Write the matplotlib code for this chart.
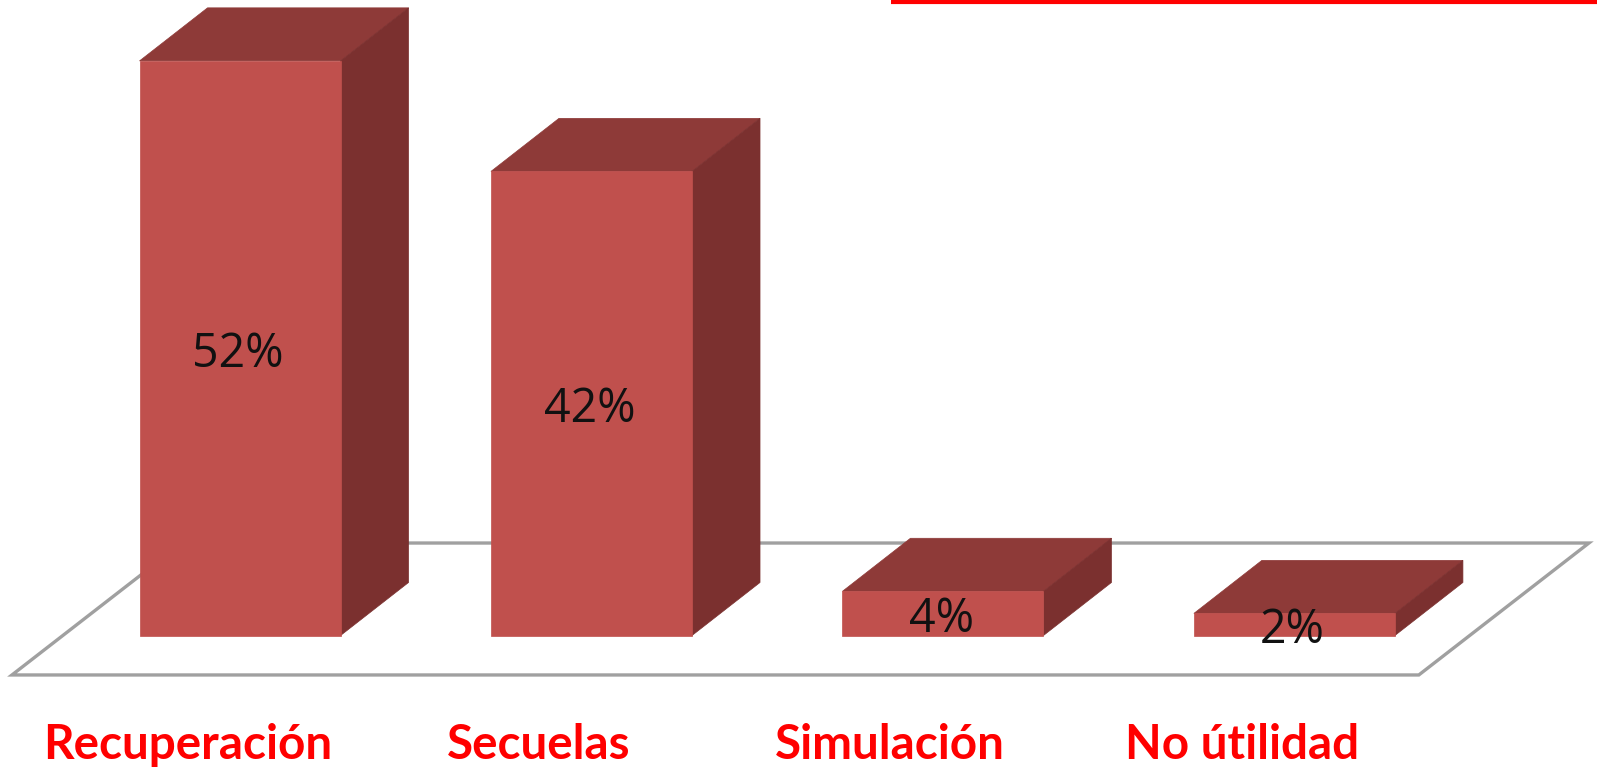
import matplotlib
matplotlib.use("Agg")
import matplotlib.pyplot as plt
from matplotlib.patches import Polygon

# Values
categories = ["Recuperación", "Secuelas", "Simulación", "No útilidad"]
values = [52, 42, 4, 2]

FRONT = "#C0504D"
TOP = "#8E3A38"
SIDE = "#7B302F"
FLOOR_LINE = "#A0A0A0"
RED = "#FF0000"

bar_width = 0.572
depth_x = 0.1935
depth_y = 4.8

fig = plt.figure(figsize=(15.97, 7.7), dpi=100)
ax = fig.add_axes([0, 0, 1, 1])
ax.set_xlim(-0.683, 3.861)
ax.set_ylim(-12.17, 57.51)
ax.axis("off")

# Floor of the 3D box
floor = Polygon([(-0.649, -3.57), (3.354, -3.57), (3.838, 8.37), (-0.165, 8.37)],
                closed=True, facecolor="white", edgecolor=FLOOR_LINE, linewidth=2.4,
                joinstyle="miter", zorder=1)
ax.add_patch(floor)

# Each bar is a front, a top and a side face
for i, v in enumerate(values):
    left = i - bar_width / 2
    right = i + bar_width / 2
    ax.add_patch(Polygon([(left, v), (right, v), (right + depth_x, v + depth_y),
                          (left + depth_x, v + depth_y)],
                         facecolor=TOP, edgecolor=TOP, linewidth=0.5, zorder=2))
    ax.add_patch(Polygon([(right, 0), (right + depth_x, depth_y),
                          (right + depth_x, v + depth_y), (right, v)],
                         facecolor=SIDE, edgecolor=SIDE, linewidth=0.5, zorder=2))
    ax.add_patch(Polygon([(left, 0), (right, 0), (right, v), (left, v)],
                         facecolor=FRONT, edgecolor=FRONT, linewidth=0.5, zorder=3))
    ax.text(i - 0.005, v / 2 - 0.55, f"{v}%", ha="center", va="center",
            fontsize=33.5, family="Open Sans", color="#111111", zorder=4)
    ax.text(i - 0.15, -11.2, categories[i], ha="center", va="baseline",
            fontsize=34.3, family="Lato", fontweight="bold", color=RED, zorder=4)

# Red rule cut off at the top edge
ax.plot([0.558, 1], [0.998, 0.998], transform=ax.transAxes, color=RED,
        linewidth=3, solid_capstyle="butt", clip_on=False, zorder=5)

fig.savefig("out.png", dpi=100)
